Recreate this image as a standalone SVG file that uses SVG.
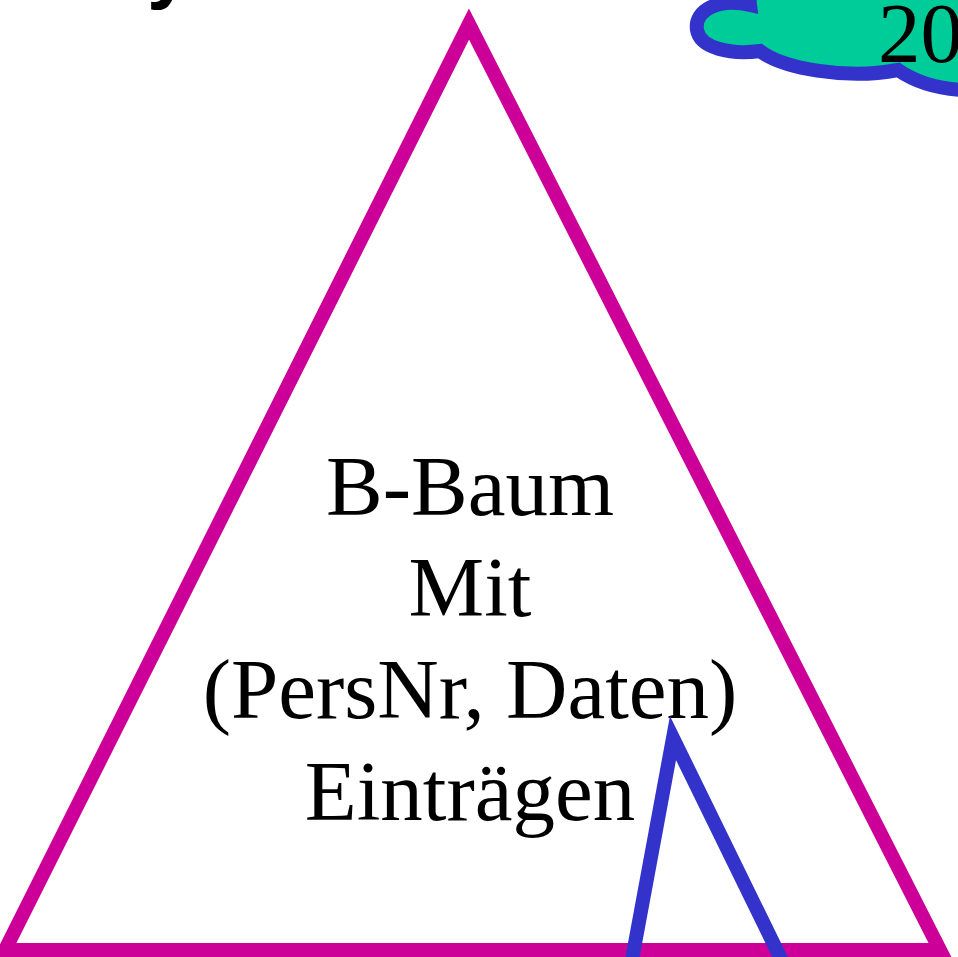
<svg xmlns="http://www.w3.org/2000/svg" width="958" height="957" viewBox="0 0 958 957">
<style>
.lbl{font-family:"Liberation Serif","Times New Roman",serif;font-size:85px;fill:#000;text-anchor:middle}
</style>
<rect width="958" height="957" fill="#fff"/>
<g id="title-fragment">
<text x="147" y="-7" font-family="Liberation Sans, Arial, sans-serif" font-weight="bold" font-size="80" fill="#000">y</text>
</g>
<g id="cloud">
<path d="M750,5 C718,-2 694,10 697,30 C700,48 730,55 760,51 C782,68 845,80 898,70 C920,85 950,92 985,90 L985,-40 L770,-40 C755,-25 748,-10 750,5 Z" fill="#00CC99" stroke="#3333CC" stroke-width="14" stroke-linejoin="miter"/>
<text x="878" y="62" font-family="Liberation Serif, Times New Roman, serif" font-size="85" fill="#000">20</text>
</g>
<g id="btree">
<polygon points="469,24 5,950 940,950" fill="none" stroke="#CC0099" stroke-width="14" stroke-miterlimit="10"/>
<text class="lbl" x="470" y="515">B-Baum</text>
<text class="lbl" x="470" y="616">Mit</text>
<text class="lbl" x="470" y="718">(PersNr, Daten)</text>
<text class="lbl" x="470" y="820">Einträgen</text>
</g>
<g id="subtree">
<polyline points="631,965 673,738 784,965" fill="none" stroke="#3333CC" stroke-width="14" stroke-miterlimit="10"/>
</g>
</svg>
